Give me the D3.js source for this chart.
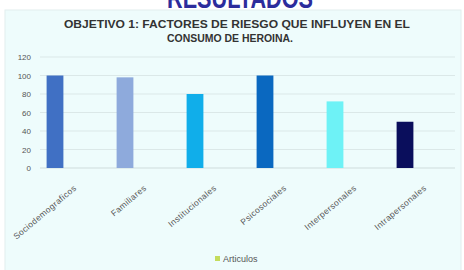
<!DOCTYPE html>
<html lang="es">
<head>
<meta charset="UTF-8">
<script src="https://d3js.org/d3.v7.min.js"></script>
<style>
  body { margin: 0; background: #fff; font-family: "Liberation Sans", Arial, sans-serif; }
  svg { display: block; }
</style>
</head>
<body>
<script>
// Data
const categories = ["Sociodemograficos", "Familiares", "Institucionales", "Psicosociales", "Interpersonales", "Intrapersonales"];
const values = [100, 98, 80, 100, 72, 50];
const barColors = ["#4070c4", "#8eaadc", "#10aeea", "#0a68c0", "#6ef2f6", "#0a0e5c"];
const yTicks = [0, 20, 40, 60, 80, 100, 120];
const seriesName = "Articulos";

const width = 464, height = 270;

const svg = d3.select("body").append("svg")
  .attr("width", width)
  .attr("height", height);

// panel
svg.append("rect")
  .attr("x", 5).attr("y", 10)
  .attr("width", 456).attr("height", 262)
  .attr("fill", "#eefcfc")
  .attr("stroke", "#e2eeee");

// header, cut off by the top of the picture (as in the reference)
svg.append("text")
  .attr("x", 240).attr("y", 8)
  .attr("text-anchor", "middle")
  .attr("font-size", 30)
  .attr("font-weight", "bold")
  .attr("fill", "#2c2c9c")
  .attr("textLength", 146)
  .attr("lengthAdjust", "spacingAndGlyphs")
  .text("RESULTADOS");

// chart title
const title = svg.append("text")
  .attr("text-anchor", "middle")
  .attr("font-size", 10)
  .attr("font-weight", "bold")
  .attr("fill", "#333");
title.append("tspan").attr("x", 237).attr("y", 28)
  .attr("textLength", 346).attr("lengthAdjust", "spacingAndGlyphs")
  .text("OBJETIVO 1: FACTORES DE RIESGO QUE INFLUYEN EN EL");
title.append("tspan").attr("x", 230).attr("y", 42)
  .attr("textLength", 126).attr("lengthAdjust", "spacingAndGlyphs")
  .text("CONSUMO DE HEROINA.");

// scales
const y = d3.scaleLinear().domain([0, 120]).range([168, 57]);
const x = d3.scaleBand().domain(categories).range([20, 440]).paddingInner(0.76).paddingOuter(0.38);

// grid
svg.append("g")
  .selectAll("line")
  .data(yTicks)
  .join("line")
  .attr("x1", 40).attr("x2", 455)
  .attr("y1", d => y(d)).attr("y2", d => y(d))
  .attr("stroke", d => d === 0 ? "#cfdcdc" : "#dbe8e8")
  .attr("stroke-width", 1);

// y axis labels
svg.append("g")
  .selectAll("text")
  .data(yTicks)
  .join("text")
  .attr("x", 31)
  .attr("y", d => y(d) + 3)
  .attr("text-anchor", "end")
  .attr("font-size", 8)
  .attr("fill", "#555")
  .text(d => d);

// bars
svg.append("g")
  .selectAll("rect")
  .data(values)
  .join("rect")
  .attr("x", (d, i) => x(categories[i]))
  .attr("y", d => y(d))
  .attr("width", x.bandwidth())
  .attr("height", d => y(0) - y(d))
  .attr("fill", (d, i) => barColors[i]);

// category labels
svg.append("g")
  .selectAll("text")
  .data(categories)
  .join("text")
  .attr("transform", d => `translate(${x(d) + x.bandwidth() / 2 + 22},${y(0) + 21}) rotate(-40)`)
  .attr("text-anchor", "end")
  .attr("font-size", 8.5)
  .attr("letter-spacing", 0.4)
  .attr("fill", "#555")
  .text(d => d);

// legend
const legend = svg.append("g").attr("transform", "translate(215,262)");
legend.append("rect")
  .attr("x", 0).attr("y", -6)
  .attr("width", 5).attr("height", 5)
  .attr("fill", "#c4dc5c");
legend.append("text")
  .attr("x", 8).attr("y", 0)
  .attr("font-size", 9)
  .attr("fill", "#555")
  .text(seriesName);
</script>
</body>
</html>
